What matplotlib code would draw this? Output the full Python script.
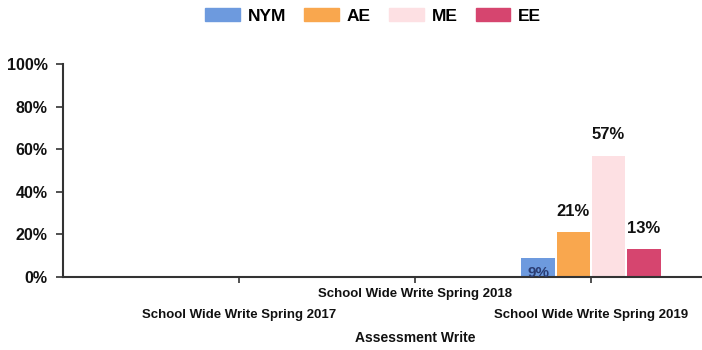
import matplotlib
matplotlib.use("Agg")
import matplotlib.pyplot as plt
import numpy as np

plt.rcParams['font.family'] = ['Liberation Sans', 'DejaVu Sans']

categories = ["School Wide Write Spring 2017",
              "School Wide Write Spring 2018",
              "School Wide Write Spring 2019"]
series_names = ["NYM", "AE", "ME", "EE"]
# percent of students per level; only Spring 2019 has results
values = {
    "NYM": [None, None, 9],
    "AE":  [None, None, 21],
    "ME":  [None, None, 57],
    "EE":  [None, None, 13],
}
colors = {"NYM": "#6d9ade", "AE": "#f9a74e", "ME": "#fde0e3", "EE": "#d6456f"}
y_ticks = [0, 20, 40, 60, 80, 100]
y_tick_labels = ["0%", "20%", "40%", "60%", "80%", "100%"]
x_title = "Assessment Write"

fig = plt.figure(figsize=(7.02, 3.5), dpi=100)
ax = fig.add_axes([63 / 702, 1 - 277 / 350, (702 - 63) / 702, (277 - 64) / 350])

x = np.arange(1, len(categories) + 1)
bar_w = 0.19
step = 0.2
for i, name in enumerate(series_names):
    offs = (i - 1.5) * step
    for xi, v in zip(x, values[name]):
        if v is None:
            continue
        ax.bar(xi + offs, v, width=bar_w, color=colors[name], edgecolor="none", zorder=2)
        if name == "NYM":
            ax.text(xi + offs, 2.0, f"{v}%", ha="center", va="center",
                    fontsize=11, fontweight="bold", color="#2b3d73", zorder=4)
        else:
            ax.annotate(f"{v}%", (xi + offs, v), xytext=(0, 15), textcoords="offset points",
                        ha="center", va="center", fontsize=12, fontweight="bold",
                        color="#111111", zorder=4)

ax.set_xlim(0, (702 - 63) / 176)
ax.set_ylim(0, 100)
ax.set_yticks(y_ticks)
ax.set_yticklabels(y_tick_labels, fontsize=11.5, fontweight="bold", color="#111111")
ax.set_xticks(x)
ax.set_xticklabels(categories, fontsize=9.5, fontweight="bold", color="#111111")
ticks = ax.xaxis.get_major_ticks()
ticks[0].set_pad(19)
ticks[1].set_pad(4)
ticks[2].set_pad(19)
ax.tick_params(axis="x", direction="out", length=4, width=1.2, color="#333333")
ax.tick_params(axis="y", direction="out", length=5, width=1.2, color="#333333", pad=6)

for side in ["top", "right"]:
    ax.spines[side].set_visible(False)
for side in ["left", "bottom"]:
    ax.spines[side].set_color("#333333")
    ax.spines[side].set_linewidth(1.5)
ax.spines["bottom"].set_zorder(3)

fig.text(415 / 702, 1 - 338 / 350, x_title, ha="center", va="center",
         fontsize=10, fontweight="bold", color="#111111")

handles = [plt.Rectangle((0, 0), 1, 1, color=colors[n]) for n in series_names]
leg = fig.legend(handles, series_names, loc="center", bbox_to_anchor=(373 / 702, 1 - 16 / 350),
                 ncol=4, frameon=False, handlelength=2.0, handleheight=0.7,
                 handletextpad=0.45, columnspacing=1.05,
                 prop={"size": 12.5, "weight": "bold"})

fig.savefig("out.png", dpi=100, facecolor="white")
